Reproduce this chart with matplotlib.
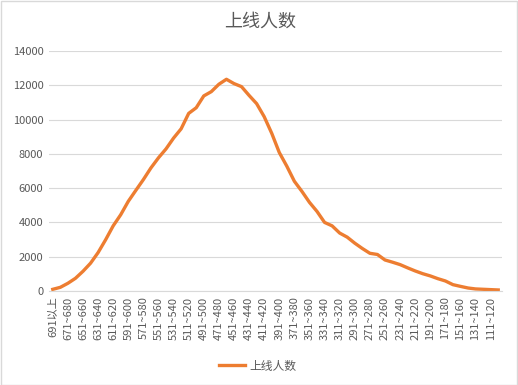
import matplotlib.pyplot as plt
from matplotlib.patches import Rectangle

plt.rcParams['font.family'] = ['Noto Sans CJK SC', 'DejaVu Sans']

# score bands, high to low
lowBounds = list(range(681, 100, -10))
categories = ["691以上"] + ["%d~%d" % (lo, lo + 9) for lo in lowBounds]

counts = [98, 215, 450, 740, 1150, 1620, 2240, 2990, 3800, 4450,
          5230, 5870, 6500, 7180, 7770, 8290, 8920, 9460, 10360, 10690,
          11380, 11630, 12060, 12350, 12100, 11920, 11410, 10930, 10170, 9200,
          8080, 7280, 6400, 5810, 5170, 4640, 4000, 3800, 3380, 3140,
          2790, 2480, 2200, 2130, 1810, 1680, 1540, 1350, 1170, 1010,
          880, 720, 585, 370, 270, 175, 120, 100, 80, 60]

yTicks = [0, 2000, 4000, 6000, 8000, 10000, 12000, 14000]

W, H = 518, 385
fig = plt.figure(figsize=(W / 100, H / 100), dpi=100)
fig.patches.append(Rectangle((0.5 / W, 0.5 / H), 1 - 1.5 / W, 1 - 1.5 / H,
                             transform=fig.transFigure, fill=False,
                             edgecolor="#D9D9D9", linewidth=1))

ax = fig.add_axes([49 / W, (H - 291) / H, (502 - 49) / W, (291 - 51) / H])
x = list(range(len(categories)))
ax.plot(x, counts, color="#ED7D31", linewidth=2.4, solid_joinstyle="round",
        label="上线人数")

ax.set_xlim(-0.5, len(categories) - 0.5)
ax.set_ylim(0, 14000)
ax.set_yticks(yTicks)
ax.set_yticklabels([str(v) for v in yTicks], fontsize=8, color="#595959")
ax.set_xticks(x[::2])
ax.set_xticklabels(categories[::2], rotation=90, fontsize=8, color="#595959")
ax.tick_params(length=0, pad=4)
ax.grid(axis="y", color="#D9D9D9", linewidth=0.8)
ax.set_axisbelow(True)
for side in ["top", "right", "left"]:
    ax.spines[side].set_visible(False)
ax.spines["bottom"].set_color("#D9D9D9")
ax.spines["bottom"].set_linewidth(0.8)

fig.text(260 / W, 1 - 22 / H, "上线人数", ha="center", va="center",
         fontsize=13, color="#595959")
fig.legend(loc="center", bbox_to_anchor=(258 / W, 1 - 366 / H), frameon=False,
           fontsize=8.5, labelcolor="#595959", handlelength=2.2,
           handletextpad=0.4)

fig.savefig("out.png", dpi=100)
